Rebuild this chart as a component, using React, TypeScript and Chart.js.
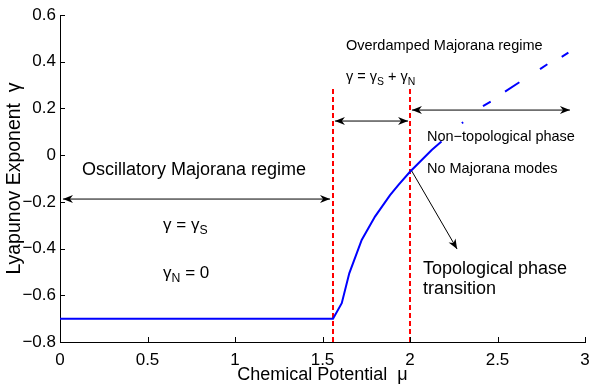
import React, { useEffect, useRef } from "react";
import { Chart, registerables } from "chart.js";

Chart.register(...registerables);

const FONT = "'Liberation Sans', Arial, Helvetica, sans-serif";

// Lyapunov exponent curve (null = gap in the plotted data)
const muValues = [
  0, 1.56, 1.61, 1.653, 1.724, 1.8, 1.886, 1.933, 2.0, 2.124, 2.18,
  2.24, 2.296, 2.304, 2.36, 2.417, 2.461, 2.5, 2.543, 2.625, 2.68, 2.743, 2.785, 2.83, 2.867, 2.905,
];
const gammaValues: (number | null)[] = [
  -0.7, -0.7, -0.634, -0.506, -0.363, -0.263, -0.171, -0.128, -0.071, 0.022, 0.058,
  null, 0.137, 0.141, null, 0.21, 0.229, null, 0.272, 0.312, null, 0.368, 0.389, null, 0.421, 0.439,
];

// vertical transition markers
const transitionMu = [1.56, 2.0];
const transitionTop = 0.29;
const yMin = -0.8;
const yMax = 0.6;
const xMin = 0;
const xMax = 3;

const xTickValues = [0, 0.5, 1, 1.5, 2, 2.5, 3];
const yTickValues = [-0.8, -0.6, -0.4, -0.2, 0, 0.2, 0.4, 0.6];
const xTitle = "Chemical Potential  μ";
const yTitle = "Lyapunov Exponent  γ";

type Part = { t: string; sub?: boolean };
type Label = { mu: number; g: number; size: number; parts: Part[] };

const labels: Label[] = [
  { mu: 0.126, g: -0.064, size: 18, parts: [{ t: "Oscillatory Majorana regime" }] },
  { mu: 0.589, g: -0.299, size: 17, parts: [{ t: "γ = γ" }, { t: "S", sub: true }] },
  { mu: 0.589, g: -0.504, size: 17, parts: [{ t: "γ" }, { t: "N", sub: true }, { t: " = 0" }] },
  { mu: 1.634, g: 0.467, size: 14.5, parts: [{ t: "Overdamped Majorana regime" }] },
  {
    mu: 1.634, g: 0.335, size: 14.5,
    parts: [{ t: "γ = γ" }, { t: "S", sub: true }, { t: " + γ" }, { t: "N", sub: true }],
  },
  { mu: 2.097, g: 0.078, size: 14.5, parts: [{ t: "Non\u2212topological phase" }] },
  { mu: 2.097, g: -0.059, size: 14.5, parts: [{ t: "No Majorana modes" }] },
  { mu: 2.074, g: -0.487, size: 18, parts: [{ t: "Topological phase" }] },
  { mu: 2.074, g: -0.573, size: 18, parts: [{ t: "transition" }] },
];

type Arrow = { mu1: number; g1: number; mu2: number; g2: number; both: boolean };
const arrows: Arrow[] = [
  { mu1: 0.017, g1: -0.188, mu2: 1.543, g2: -0.188, both: true },
  { mu1: 1.571, g1: 0.146, mu2: 1.989, g2: 0.146, both: true },
  { mu1: 2.011, g1: 0.193, mu2: 2.914, g2: 0.193, both: true },
  { mu1: 2.01, g1: -0.068, mu2: 2.269, g2: -0.402, both: false },
];

function drawHead(ctx: CanvasRenderingContext2D, tx: number, ty: number, fx: number, fy: number) {
  const ang = Math.atan2(ty - fy, tx - fx);
  const L = 10, W = 4, N = 7;
  ctx.save();
  ctx.translate(tx, ty);
  ctx.rotate(ang);
  ctx.beginPath();
  ctx.moveTo(0, 0);
  ctx.lineTo(-L, -W);
  ctx.lineTo(-N, 0);
  ctx.lineTo(-L, W);
  ctx.closePath();
  ctx.fill();
  ctx.restore();
}

function drawParts(ctx: CanvasRenderingContext2D, parts: Part[], x0: number, yc: number, size: number) {
  let cx = x0;
  for (const p of parts) {
    const s = p.sub ? size * 0.72 : size;
    ctx.font = `${s}px ${FONT}`;
    ctx.fillText(p.t, cx, p.sub ? yc + size * 0.33 : yc);
    cx += ctx.measureText(p.t).width;
  }
}

const annotationPlugin = {
  id: "annotations",
  afterDatasetsDraw(chart: any) {
    const { ctx, scales } = chart;
    const xs = scales.x;
    const ys = scales.y;
    const area = chart.chartArea;
    ctx.save();
    // inward ticks
    ctx.strokeStyle = "#000";
    ctx.lineWidth = 1;
    ctx.beginPath();
    for (const v of xTickValues) {
      const px = Math.round(xs.getPixelForValue(v)) + 0.5;
      ctx.moveTo(px, area.bottom);
      ctx.lineTo(px, area.bottom - 5);
    }
    for (const v of yTickValues) {
      const py = Math.round(ys.getPixelForValue(v)) + 0.5;
      ctx.moveTo(area.left, py);
      ctx.lineTo(area.left + 5, py);
    }
    ctx.stroke();

    // arrows
    ctx.fillStyle = "#000";
    for (const a of arrows) {
      const x1 = xs.getPixelForValue(a.mu1);
      const y1 = ys.getPixelForValue(a.g1);
      const x2 = xs.getPixelForValue(a.mu2);
      const y2 = ys.getPixelForValue(a.g2);
      ctx.beginPath();
      ctx.moveTo(x1, y1);
      ctx.lineTo(x2, y2);
      ctx.stroke();
      drawHead(ctx, x2, y2, x1, y1);
      if (a.both) drawHead(ctx, x1, y1, x2, y2);
    }

    // texts
    ctx.textAlign = "left";
    ctx.textBaseline = "middle";
    for (const l of labels) {
      drawParts(ctx, l.parts, xs.getPixelForValue(l.mu), ys.getPixelForValue(l.g), l.size);
    }
    ctx.restore();
  },
};

const fmt = (v: number) => {
  const s = String(Number(v.toFixed(2)));
  return s.replace("-", "\u2212");
};

export default function App() {
  const ref = useRef<HTMLCanvasElement>(null);
  useEffect(() => {
    const curve = muValues.map((m, i) => ({ x: m, y: gammaValues[i] }));
    const redLines: { x: number; y: number | null }[] = [];
    transitionMu.forEach((m, i) => {
      if (i > 0) redLines.push({ x: m, y: null });
      redLines.push({ x: m, y: yMin });
      redLines.push({ x: m, y: transitionTop });
    });
    const chart = new Chart(ref.current!, {
      type: "line",
      data: {
        datasets: [
          {
            data: curve as any,
            borderColor: "#0000ff",
            borderWidth: 2,
            pointRadius: 0,
            spanGaps: false,
            tension: 0,
            borderCapStyle: "butt",
          },
          {
            data: redLines as any,
            borderColor: "#ff0000",
            borderWidth: 2,
            borderDash: [5, 3],
            pointRadius: 0,
            spanGaps: false,
            tension: 0,
          },
        ],
      },
      options: {
        responsive: false,
        animation: false,
        layout: { padding: { top: 15, right: 4, left: 0, bottom: 0 } },
        plugins: { legend: { display: false }, tooltip: { enabled: false } },
        scales: {
          x: {
            type: "linear",
            min: xMin,
            max: xMax,
            afterBuildTicks: (s: any) => {
              s.ticks = xTickValues.map((v) => ({ value: v }));
            },
            afterFit: (s: any) => {
              s.height = 44;
              s.paddingRight = 0;
              s.paddingLeft = 0;
            },
            grid: { display: false, drawTicks: false },
            border: { display: true, color: "#000", width: 1 },
            ticks: {
              color: "#000",
              font: { family: FONT, size: 17 },
              padding: 8,
              maxRotation: 0,
              autoSkip: false,
              callback: (v: any) => fmt(Number(v)),
            },
            title: {
              display: true,
              text: xTitle,
              color: "#000",
              font: { family: FONT, size: 18 },
              padding: { top: 0, bottom: 0 },
            },
          },
          y: {
            type: "linear",
            min: yMin,
            max: yMax,
            afterBuildTicks: (s: any) => {
              s.ticks = yTickValues.map((v) => ({ value: v }));
            },
            afterFit: (s: any) => {
              s.width = 60;
            },
            grid: { display: false, drawTicks: false },
            border: { display: true, color: "#000", width: 1 },
            ticks: {
              color: "#000",
              font: { family: FONT, size: 17 },
              padding: 4,
              autoSkip: false,
              callback: (v: any) => fmt(Number(v)),
            },
            title: {
              display: true,
              text: yTitle,
              color: "#000",
              font: { family: FONT, size: 19.5 },
              padding: { top: 3, bottom: 0 },
            },
          },
        },
      },
      plugins: [annotationPlugin],
    });
    return () => chart.destroy();
  }, []);
  return (
    <div style={{ position: "fixed", left: 0, top: 0, width: 589, height: 386, background: "#fff" }}>
      <canvas ref={ref} width={589} height={386} style={{ display: "block", width: 589, height: 386 }} />
    </div>
  );
}
